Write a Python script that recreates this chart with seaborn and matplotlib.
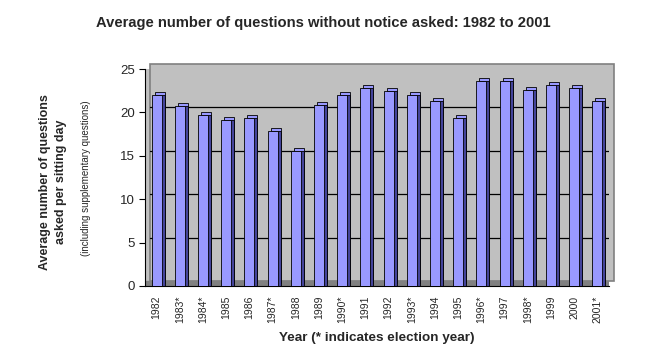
import pandas as pd
import matplotlib.pyplot as plt
import matplotlib.transforms as mtransforms
from matplotlib.patches import Rectangle
import seaborn as sns

years = ["1982", "1983*", "1984*", "1985", "1986", "1987*", "1988", "1989", "1990*", "1991",
         "1992", "1993*", "1994", "1995", "1996*", "1997", "1998*", "1999", "2000", "2001*"]
avg_questions = [22.0, 20.7, 19.7, 19.1, 19.3, 17.8, 15.5, 20.9, 22.0, 22.8,
                 22.5, 22.0, 21.3, 19.4, 23.6, 23.6, 22.6, 23.1, 22.8, 21.3]

df = pd.DataFrame({"year": years, "avg": avg_questions})

sns.set_style("white")
plt.rcParams['font.family'] = ['Liberation Sans', 'DejaVu Sans']

fig = plt.figure(figsize=(6.47, 3.64), dpi=100)
ax = fig.add_axes([145/647, 78/364, 464/647, 217/364])
ax.set_facecolor("#c0c0c0")

# back wall, pushed up/right for the 3d look
wall = mtransforms.offset_copy(ax.transAxes, fig=fig, x=5, y=5, units="dots")
ax.add_patch(Rectangle((0, 0), 1, 1, transform=wall, facecolor="#c0c0c0",
                       edgecolor="#808080", lw=1.2, zorder=0.2, clip_on=False))
ax.axhspan(0, 0.55, color="#808080", zorder=0.3)

wall_y = mtransforms.offset_copy(ax.get_yaxis_transform(), fig=fig, x=5, y=5, units="dots")
for v in [5, 10, 15, 20]:
    gl = ax.axhline(v, color="black", lw=0.9, zorder=0.5)
    gl.set_transform(wall_y)

bw = 0.43
# top face (light) - shifted copy
n_start = len(ax.patches)
sns.barplot(data=df, x="year", y="avg", color="#9999ff", width=bw, ax=ax,
            saturation=1, edgecolor="black", linewidth=0.6, zorder=2)
n0 = len(ax.patches)
top_shift = mtransforms.offset_copy(ax.transData, fig=fig, x=3, y=3, units="dots")
for p in ax.patches[n_start:n0]:
    p.set_transform(top_shift)

# right side face (dark)
sns.barplot(data=df, x="year", y="avg", color="#44449a", width=bw, ax=ax,
            saturation=1, edgecolor="black", linewidth=0.6, zorder=2.5)
n1 = len(ax.patches)
side_shift = mtransforms.offset_copy(ax.transData, fig=fig, x=3, y=0, units="dots")
for p in ax.patches[n0:n1]:
    p.set_transform(side_shift)

# front face
sns.barplot(data=df, x="year", y="avg", color="#9999ff", width=bw, ax=ax,
            saturation=1, edgecolor="black", linewidth=0.6, zorder=3)

ax.set_xlim(-0.5, len(years) - 0.5)
ax.set_ylim(0, 25)
ax.set_yticks([0, 5, 10, 15, 20, 25])
ax.tick_params(axis="y", labelsize=9.5, length=4, direction="out", left=True, color="black")
ax.tick_params(axis="x", labelsize=7.5, rotation=90, length=0, pad=7)
for s in ["top", "right"]:
    ax.spines[s].set_visible(False)
ax.spines["left"].set_color("black")
ax.spines["bottom"].set_color("black")

ax.set_xlabel("Year (* indicates election year)", fontsize=9.7, fontweight="bold", labelpad=6)
ax.set_ylabel("")
fig.text(53/647, 0.50, "Average number of questions\nasked per sitting day", rotation=90,
         ha="center", va="center", fontsize=9, fontweight="bold", linespacing=1.4)
fig.text(86/647, 0.51, "(including supplementary questions)", rotation=90,
         ha="center", va="center", fontsize=7)
fig.text(0.5, 1 - 23/364, "Average number of questions without notice asked: 1982 to 2001",
         ha="center", va="center", fontsize=10.6, fontweight="bold")

plt.savefig("out.png", dpi=100)
